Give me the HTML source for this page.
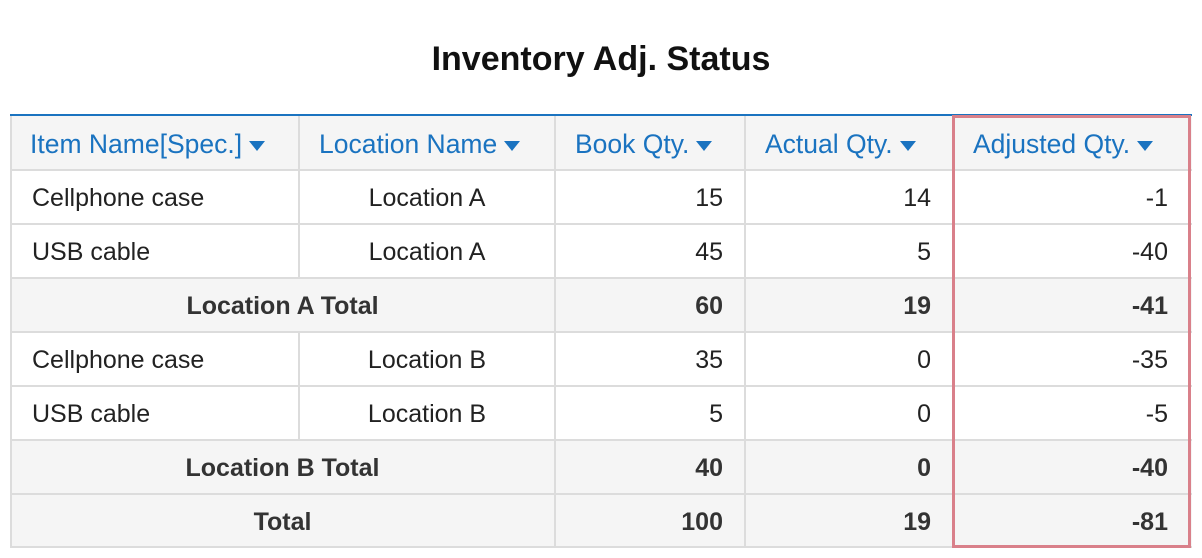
<!DOCTYPE html>
<html><head><style>
body{margin:0;width:1202px;height:558px;background:#fff;font-family:"Liberation Sans",sans-serif;position:relative;overflow:hidden}
.t{position:absolute;left:0;width:1202px;top:40px;text-align:center;font-size:34px;font-weight:bold;color:#111}
.c{position:absolute;box-sizing:border-box;font-size:25px;color:#222;line-height:54px;padding:0 22px;white-space:nowrap}
.h{color:#1a73c0;padding:0 20px;font-size:26.5px}
.b{font-weight:bold;color:#333}
.h:after{content:"";display:inline-block;margin-left:7px;border-left:8px solid transparent;border-right:8px solid transparent;border-top:10px solid #1a73c0;vertical-align:middle}
.hl{position:absolute;background:#dcdcdc}
</style></head><body>
<div class="t">Inventory Adj. Status</div>
<div style="position:absolute;left:10px;top:116px;width:1182px;height:54px;background:#f5f5f5"></div>
<div style="position:absolute;left:10px;top:278px;width:1182px;height:54px;background:#f5f5f5"></div>
<div style="position:absolute;left:10px;top:440px;width:1182px;height:107px;background:#f5f5f5"></div>
<div style="position:absolute;left:10px;top:114px;width:1182px;height:2px;background:#1a73c0"></div>
<div class="hl" style="left:10px;top:116px;width:2px;height:432px"></div>
<div class="hl" style="left:298px;top:116px;width:2px;height:162px"></div>
<div class="hl" style="left:298px;top:332px;width:2px;height:108px"></div>
<div class="hl" style="left:554px;top:116px;width:2px;height:432px"></div>
<div class="hl" style="left:744px;top:116px;width:2px;height:432px"></div>
<div class="hl" style="left:10px;top:169px;width:1182px;height:2px"></div>
<div class="hl" style="left:10px;top:223px;width:1182px;height:2px"></div>
<div class="hl" style="left:10px;top:277px;width:1182px;height:2px"></div>
<div class="hl" style="left:10px;top:331px;width:1182px;height:2px"></div>
<div class="hl" style="left:10px;top:385px;width:1182px;height:2px"></div>
<div class="hl" style="left:10px;top:439px;width:1182px;height:2px"></div>
<div class="hl" style="left:10px;top:493px;width:1182px;height:2px"></div>
<div class="hl" style="left:10px;top:546px;width:1182px;height:2px"></div>
<div style="position:absolute;left:952px;top:115px;width:239px;height:433px;box-sizing:border-box;border:3px solid #d9808a"></div>

<div class="c h" style="left:10px;top:117px">Item Name[Spec.]</div>
<div class="c h" style="left:299px;top:117px">Location Name</div>
<div class="c h" style="left:555px;top:117px">Book Qty.</div>
<div class="c h" style="left:745px;top:117px">Actual Qty.</div>
<div class="c h" style="left:953px;top:117px">Adjusted Qty.</div>

<div class="c" style="left:10px;top:171px">Cellphone case</div>
<div class="c" style="left:299px;top:171px;width:256px;text-align:center">Location A</div>
<div class="c" style="left:555px;top:171px;width:190px;text-align:right">15</div>
<div class="c" style="left:745px;top:171px;width:208px;text-align:right">14</div>
<div class="c" style="left:953px;top:171px;width:237px;text-align:right">-1</div>

<div class="c" style="left:10px;top:225px">USB cable</div>
<div class="c" style="left:299px;top:225px;width:256px;text-align:center">Location A</div>
<div class="c" style="left:555px;top:225px;width:190px;text-align:right">45</div>
<div class="c" style="left:745px;top:225px;width:208px;text-align:right">5</div>
<div class="c" style="left:953px;top:225px;width:237px;text-align:right">-40</div>

<div class="c b" style="left:10px;top:279px;width:545px;text-align:center">Location A Total</div>
<div class="c b" style="left:555px;top:279px;width:190px;text-align:right">60</div>
<div class="c b" style="left:745px;top:279px;width:208px;text-align:right">19</div>
<div class="c b" style="left:953px;top:279px;width:237px;text-align:right">-41</div>

<div class="c" style="left:10px;top:333px">Cellphone case</div>
<div class="c" style="left:299px;top:333px;width:256px;text-align:center">Location B</div>
<div class="c" style="left:555px;top:333px;width:190px;text-align:right">35</div>
<div class="c" style="left:745px;top:333px;width:208px;text-align:right">0</div>
<div class="c" style="left:953px;top:333px;width:237px;text-align:right">-35</div>

<div class="c" style="left:10px;top:387px">USB cable</div>
<div class="c" style="left:299px;top:387px;width:256px;text-align:center">Location B</div>
<div class="c" style="left:555px;top:387px;width:190px;text-align:right">5</div>
<div class="c" style="left:745px;top:387px;width:208px;text-align:right">0</div>
<div class="c" style="left:953px;top:387px;width:237px;text-align:right">-5</div>

<div class="c b" style="left:10px;top:441px;width:545px;text-align:center">Location B Total</div>
<div class="c b" style="left:555px;top:441px;width:190px;text-align:right">40</div>
<div class="c b" style="left:745px;top:441px;width:208px;text-align:right">0</div>
<div class="c b" style="left:953px;top:441px;width:237px;text-align:right">-40</div>

<div class="c b" style="left:10px;top:495px;width:545px;text-align:center">Total</div>
<div class="c b" style="left:555px;top:495px;width:190px;text-align:right">100</div>
<div class="c b" style="left:745px;top:495px;width:208px;text-align:right">19</div>
<div class="c b" style="left:953px;top:495px;width:237px;text-align:right">-81</div>
</body></html>
